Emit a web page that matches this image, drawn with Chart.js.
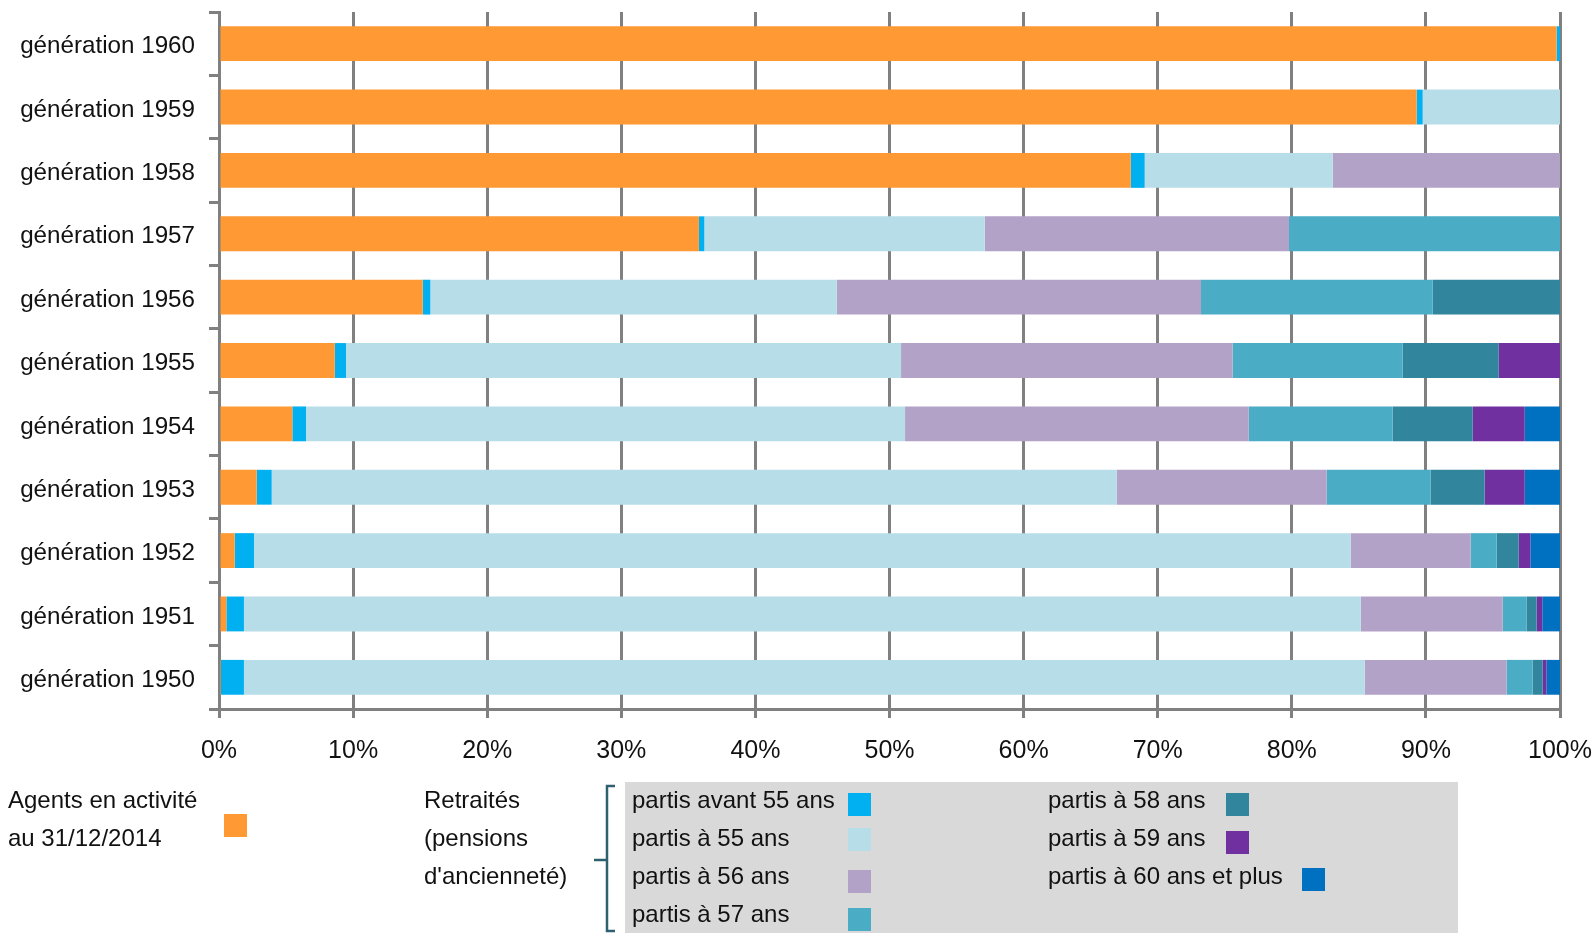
<!DOCTYPE html>
<html><head><meta charset="utf-8">
<script src="https://cdn.jsdelivr.net/npm/chart.js@4/dist/chart.umd.min.js"></script>
<style>
html,body{margin:0;padding:0;background:#fff;width:1594px;height:933px;overflow:hidden;font-family:'Liberation Sans',Arial,sans-serif;color:#111}
#wrap{position:absolute;left:0;top:0;width:1594px;height:775px}
.t{position:absolute;font-size:24px;line-height:24px;white-space:nowrap;color:#111}
.sw{position:absolute;width:23px;height:23px}
#box{position:absolute;left:625px;top:782px;width:833px;height:151px;background:#D9D9D9}
svg{position:absolute;left:0;top:0}
</style></head><body>
<div id="wrap"><canvas id="c" width="1594" height="775"></canvas></div>
<div id="box"></div>
<svg width="1594" height="933"><path d="M615 786 H607 V931 H615 M607 860 H594" fill="none" stroke="#2E6070" stroke-width="2.5"/></svg>
<div id="legend"></div>
<script>
const categories = ['génération 1960','génération 1959','génération 1958','génération 1957','génération 1956','génération 1955','génération 1954','génération 1953','génération 1952','génération 1951','génération 1950'];
const xTicks = [0,10,20,30,40,50,60,70,80,90,100];
const seriesNames = ['Agents en activité au 31/12/2014','partis avant 55 ans','partis à 55 ans','partis à 56 ans','partis à 57 ans','partis à 58 ans','partis à 59 ans','partis à 60 ans et plus'];
const activite = [99.75, 89.31, 67.99, 35.79, 15.19, 8.63, 5.47, 2.81, 1.17, 0.55, 0.15];
const avant55  = [0.25, 0.45, 1.04, 0.40, 0.57, 0.84, 1.02, 1.12, 1.44, 1.31, 1.71];
const a55      = [0, 10.24, 14.02, 20.91, 30.31, 41.39, 44.67, 63.01, 81.78, 83.28, 83.58];
const a56      = [0, 0, 16.95, 22.69, 27.16, 24.73, 25.63, 15.66, 8.95, 10.59, 10.58];
const a57      = [0, 0, 0, 20.21, 17.28, 12.68, 10.73, 7.76, 1.94, 1.79, 1.94];
const a58      = [0, 0, 0, 0, 9.49, 7.16, 5.97, 4.02, 1.64, 0.74, 0.75];
const a59      = [0, 0, 0, 0, 0, 4.57, 3.88, 2.99, 0.87, 0.42, 0.29];
const a60plus  = [0, 0, 0, 0, 0, 0, 2.63, 2.63, 2.21, 1.32, 1.00];
const colors = ['#FF9933','#00B0F0','#B7DDE8','#B3A2C7','#4BACC6','#31859C','#7030A0','#0070C0'];

const seriesValues = [activite, avant55, a55, a56, a57, a58, a59, a60plus];
const datasets = seriesValues.map((d,i)=>({
  label: seriesNames[i], data: d, backgroundColor: colors[i], borderWidth: 0,
  barPercentage: 0.55, categoryPercentage: 1.0
}));

new Chart(document.getElementById('c'), {
  type: 'bar',
  data: { labels: categories, datasets },
  options: {
    indexAxis: 'y', responsive: false, animation: false, devicePixelRatio: 1,
    layout: { padding: { top: 12, right: 34, left: 0, bottom: 0 } },
    plugins: { legend: { display: false }, tooltip: { enabled: false } },
    scales: {
      x: {
        stacked: true, min: 0, max: 100,
        afterBuildTicks: s => { s.ticks = xTicks.map(v => ({ value: v })); },
        afterFit: s => { s.height = 66; s.paddingLeft = 0; s.paddingRight = 0; },
        ticks: { callback: v => v + '%', font: { family: "'Liberation Sans', Arial, sans-serif", size: 25 }, color: '#111', padding: 18, maxRotation: 0 },
        grid: { color: '#808080', lineWidth: 3, borderDash: [5, 2], tickLength: 9, tickColor: '#808080', tickWidth: 3, tickBorderDash: [] },
        border: { display: true, color: '#808080', width: 3 }
      },
      y: {
        stacked: true, offset: true,
        afterFit: s => { s.width = 219; s.paddingTop = 0; s.paddingBottom = 0; },
        ticks: { font: { family: "'Liberation Sans', Arial, sans-serif", size: 24.2 }, color: '#111', padding: 14, labelOffset: 3 },
        grid: { drawOnChartArea: false, offset: true, tickLength: 10, color: '#808080', lineWidth: 3 },
        border: { display: true, color: '#808080', width: 3 }
      }
    }
  }
});

// Custom legend (HTML text)
const lg = document.getElementById('legend');
function txt(s, x, cy){ const d=document.createElement('div'); d.className='t'; d.textContent=s; d.style.left=x+'px'; d.style.top=(cy-12)+'px'; lg.appendChild(d); }
function sw(c, x, y){ const d=document.createElement('div'); d.className='sw'; d.style.background=c; d.style.left=x+'px'; d.style.top=y+'px'; lg.appendChild(d); }
txt('Agents en activité', 8, 800);
txt('au 31/12/2014', 8, 838);
sw(colors[0], 224, 814);
txt('Retraités', 424, 800);
txt('(pensions', 424, 838);
txt("d'ancienneté)", 424, 876);
const leftRows = [[800, 793],[838, 828],[876, 870],[914, 908]];
for (let i=0;i<4;i++){ txt(seriesNames[i+1], 632, leftRows[i][0]); sw(colors[i+1], 848, leftRows[i][1]); }
const rightRows = [[800, 793, 1226],[838, 831, 1226],[876, 868, 1302]];
for (let i=0;i<3;i++){ txt(seriesNames[i+5], 1048, rightRows[i][0]); sw(colors[i+5], rightRows[i][2], rightRows[i][1]); }
</script>
</body></html>
